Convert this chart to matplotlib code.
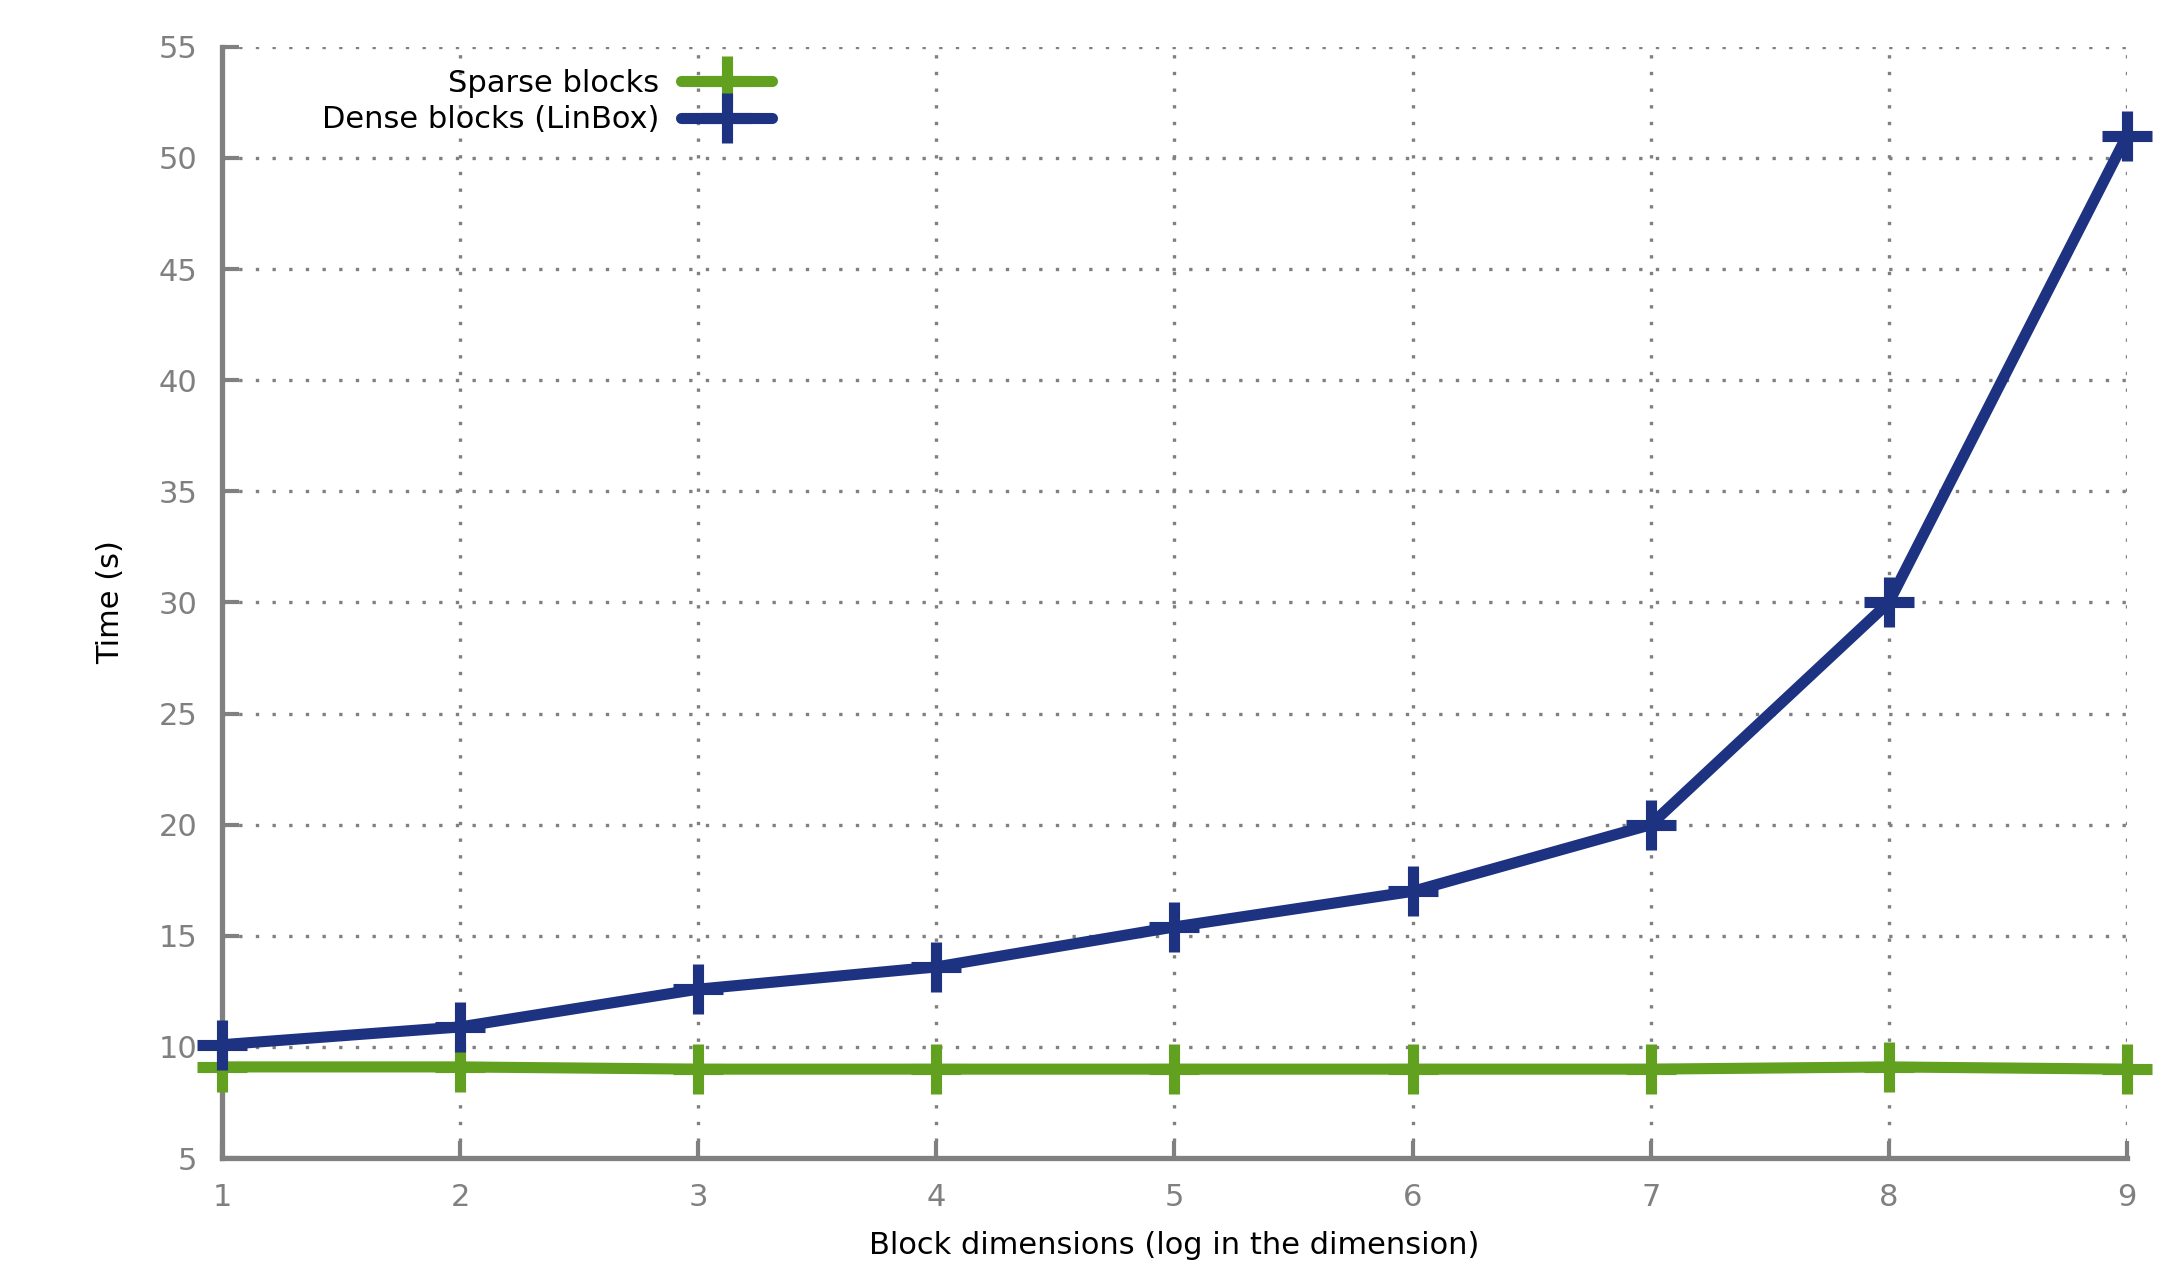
import matplotlib.pyplot as plt

# block dimension (log) vs. time in seconds
dims = [1, 2, 3, 4, 5, 6, 7, 8, 9]
sparse_time = [9.1, 9.1, 9.0, 9.0, 9.0, 9.0, 9.0, 9.1, 9.0]
dense_time = [10.1, 10.9, 12.6, 13.6, 15.4, 17.0, 20.0, 30.0, 51.0]

green = "#62a020"
blue = "#1e3282"
grey = "#808080"

fig = plt.figure(figsize=(21.77, 12.67), dpi=100)
ax = fig.add_axes([0.102, 0.086, 0.875, 0.877])

style = dict(lw=8, marker="+", ms=36, mew=8, solid_capstyle="round",
             dash_capstyle="round", clip_on=False)
ax.plot(dims, sparse_time, color=green, label="Sparse blocks", zorder=3, **style)
ax.plot(dims, dense_time, color=blue, label="Dense blocks (LinBox)", zorder=4, **style)

ax.set_xlim(1, 9)
ax.set_ylim(5, 55)
ax.set_xticks(dims)
ax.set_yticks(range(5, 56, 5))

ax.grid(True, color=grey, linestyle=(0, (1, 4)), lw=2.4)
ax.set_axisbelow(True)

for side in ["top", "right"]:
    ax.spines[side].set_visible(False)
for side in ["left", "bottom"]:
    ax.spines[side].set_color(grey)
    ax.spines[side].set_linewidth(3.8)

ax.tick_params(direction="in", length=12, width=3, color=grey,
               labelcolor=grey, labelsize=22)
ax.tick_params(axis="x", pad=18)
ax.tick_params(axis="y", pad=18)

ax.set_xlabel("Block dimensions (log in the dimension)", fontsize=22, labelpad=14)
ax.set_ylabel("Time (s)", fontsize=22, labelpad=24)

ax.legend(loc="upper left", bbox_to_anchor=(0.038, 1.005), frameon=False,
          markerfirst=False, fontsize=22, handlelength=3.0, labelspacing=0.25,
          handletextpad=0.7)

fig.savefig("out.png", dpi=100)
